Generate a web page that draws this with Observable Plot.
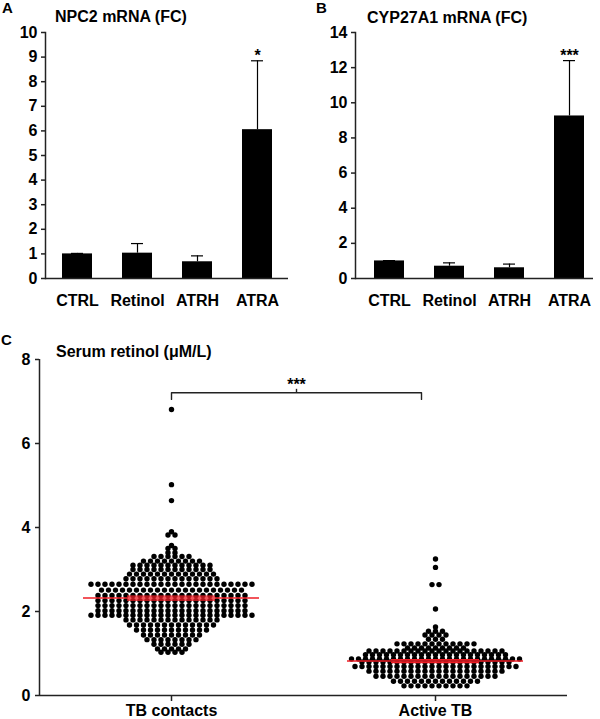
<!DOCTYPE html>
<html>
<head>
<meta charset="utf-8">
<script src="https://cdn.jsdelivr.net/npm/d3@7"></script>
<script src="https://cdn.jsdelivr.net/npm/@observablehq/plot@0.6"></script>
<style>
  body { margin: 0; background: #fff; }
  #wrap { position: relative; width: 600px; height: 719px; overflow: hidden;
          font-family: "Liberation Sans", Arial, sans-serif; font-weight: bold; color: #000; }
  .lbl { position: absolute; white-space: nowrap; line-height: 1; }
  #wrap svg { position: absolute; overflow: visible; }
</style>
</head>
<body>
<div id="wrap"></div>
<script>
// ---------------- DATA ----------------
// Panels A & B
const treatments = ["CTRL", "Retinol", "ATRH", "ATRA"];
const npc2Mean = [1.0, 1.03, 0.68, 6.05];
const npc2Err  = [0.02, 0.39, 0.24, 2.80];
const npc2Sig  = ["", "", "", "*"];
const npc2Ticks = [0, 1, 2, 3, 4, 5, 6, 7, 8, 9, 10];

const cypMean = [1.0, 0.70, 0.61, 9.25];
const cypErr  = [0.02, 0.19, 0.21, 3.15];
const cypSig  = ["", "", "", "***"];
const cypTicks = [0, 2, 4, 6, 8, 10, 12, 14];

// Panel C (serum retinol, rows of points: level and count)
const groups = ["TB contacts", "Active TB"];
const contactLevels = [6.81, 5.02, 4.64, 3.90, 3.82, 3.57, 3.50, 3.40, 3.31, 3.20, 3.10, 3.00, 2.89, 2.78,
                       2.65, 2.51, 2.38, 2.26, 2.14, 2.02, 1.91, 1.80, 1.68, 1.56, 1.44, 1.33, 1.22, 1.11, 1.03];
const contactCounts = [1, 1, 1, 1, 2, 1, 2, 2, 6, 9, 12, 12, 13, 14,
                       24, 21, 22, 22, 22, 22, 24, 14, 13, 11, 9, 8, 6, 5, 4];
const activeLevels = [3.25, 3.05, 2.64, 2.06, 1.63, 1.53, 1.44, 1.34, 1.23, 1.13, 1.06, 0.97, 0.87, 0.80,
                      0.69, 0.58, 0.46, 0.34, 0.23];
const activeCounts = [1, 1, 2, 1, 1, 3, 4, 3, 12, 9, 20, 21, 25, 22, 24, 20, 18, 13, 10];
const groupMean = [2.32, 0.82];
const groupSem  = [0.045, 0.035];
const retinolTicks = [0, 2, 4, 6, 8];
const bracketY = 7.21;
const bracketDrop = 0.16;
const bracketLabel = "***";

// ---------------- LAYOUT ----------------
const wrap = document.getElementById("wrap");
const FONT = '"Liberation Sans", Arial, sans-serif';
const baseStyle = { fontFamily: FONT, fontSize: "16px", fontWeight: "bold", color: "#000", background: "transparent", overflow: "visible" };

function addLabel(text, left, top, size) {
  const d = document.createElement("div");
  d.className = "lbl";
  d.textContent = text;
  d.style.left = left + "px";
  d.style.top = top + "px";
  d.style.fontSize = size + "px";
  wrap.appendChild(d);
}
function place(svg, left, top) {
  svg.style.left = left + "px";
  svg.style.top = top + "px";
  wrap.appendChild(svg);
}

function barPanel(means, errs, sig, ticks, opt) {
  const data = treatments.map((t, i) => ({ t, v: means[i], top: means[i] + errs[i], s: sig[i] }));
  return Plot.plot({
    width: 300, height: 330,
    marginLeft: opt.ml, marginRight: opt.mr, marginTop: 32, marginBottom: 52,
    style: baseStyle,
    x: { domain: treatments, paddingInner: 0.5, paddingOuter: opt.po, align: opt.align, label: null, axis: null },
    y: { domain: [0, ticks[ticks.length - 1]], label: null, axis: null },
    marks: [
      Plot.ruleX(data, { x: "t", y1: "v", y2: "top", stroke: "#000", strokeWidth: 1.2 }),
      Plot.tickY(data, { x: "t", y: "top", stroke: "#000", strokeWidth: 1.2, insetLeft: 9, insetRight: 9 }),
      Plot.barY(data, { x: "t", y: "v", fill: "#000" }),
      Plot.text(data.filter(d => d.s), { x: "t", y: "top", text: "s", dy: -5, fontSize: 16, fontWeight: "bold" }),
      Plot.frame({ anchor: "left", stroke: "#222", strokeWidth: 1.5 }),
      Plot.ruleY([0], { stroke: "#222", strokeWidth: 1.5 }),
      Plot.axisY(ticks, { tickSize: 4, tickPadding: 4, label: null, stroke: "#222", strokeWidth: 1.5 }),
      Plot.axisX({ tickSize: 0, tickPadding: 16, label: null })
    ]
  });
}

// Panel A
place(barPanel(npc2Mean, npc2Err, npc2Sig, npc2Ticks, { ml: 45, mr: 12, po: 0.275, align: 0.5 }), 0, 0);
// Panel B
place(barPanel(cypMean, cypErr, cypSig, cypTicks, { ml: 55, mr: 7, po: 0.233, align: 0.68 }), 300, 0);

// Panel C
const cW = 600, cH = 389, cML = 39, cMR = 33;
const pxPerUnit = (cW - cML - cMR) / groups.length;
const dotGap = 7;               // px between neighbouring dots in a row
const stepUnits = dotGap / pxPerUnit;
const gPos = gi => gi + 0.5;
function swarm(levels, counts, gi) {
  return levels.flatMap((v, i) => d3.range(counts[i]).map(k => ({
    x: gPos(gi) + (k - (counts[i] - 1) / 2) * stepUnits, y: v
  })));
}
const dots = swarm(contactLevels, contactCounts, 0).concat(swarm(activeLevels, activeCounts, 1));
const meanHalf = 88 / pxPerUnit, semHalf = 44 / pxPerUnit;
const stats = groups.map((g, i) => ({ g, x: gPos(i), m: groupMean[i], lo: groupMean[i] - groupSem[i], hi: groupMean[i] + groupSem[i] }));
const semLines = stats.flatMap(s => [{ x: s.x, y: s.lo }, { x: s.x, y: s.hi }]);
const bx1 = gPos(0), bx2 = gPos(1) - 14 / pxPerUnit;
const bracket = [
  { x: bx1, y: bracketY - bracketDrop }, { x: bx1, y: bracketY },
  { x: bx2, y: bracketY }, { x: bx2, y: bracketY - bracketDrop }
];
const bMid = (bx1 + bx2) / 2;
const RED = "#ee1c24";

const plotC = Plot.plot({
  width: cW, height: cH,
  marginLeft: cML, marginRight: cMR, marginTop: 29, marginBottom: 24,
  style: baseStyle,
  x: { domain: [0, groups.length], axis: null, label: null },
  y: { domain: [0, 8], axis: null, label: null },
  marks: [
    Plot.dot(dots, { x: "x", y: "y", r: 2.7, fill: "#000", stroke: "none" }),
    Plot.ruleY(stats, { x1: d => d.x - meanHalf, x2: d => d.x + meanHalf, y: "m", stroke: RED, strokeWidth: 1.4 }),
    Plot.ruleY(semLines, { x1: d => d.x - semHalf, x2: d => d.x + semHalf, y: "y", stroke: RED, strokeWidth: 1.4 }),
    Plot.line(bracket, { x: "x", y: "y", stroke: "#222", strokeWidth: 1.4 }),
    Plot.ruleX([bMid], { y1: bracketY, y2: bracketY + 0.08, stroke: "#222", strokeWidth: 1.4 }),
    Plot.text([bracketLabel], { x: bMid, y: bracketY, text: d => d, dy: -8, fontSize: 16, fontWeight: "bold" }),
    Plot.ruleX([0], { stroke: "#222", strokeWidth: 1.5 }),
    Plot.ruleY([0], { stroke: "#222", strokeWidth: 1.5 }),
    Plot.axisY(retinolTicks, { tickSize: 4, tickPadding: 5, label: null, stroke: "#222", strokeWidth: 1.5 }),
    Plot.axisX(groups.map((g, i) => gPos(i)), { tickSize: 6, tickPadding: 3, label: null, stroke: "#222", strokeWidth: 1.5,
      tickFormat: d => groups[Math.floor(d)] })
  ]
});
place(plotC, 0, 330);

// Panel letters and titles
addLabel("A", 2, 0, 15);
addLabel("NPC2 mRNA (FC)", 55, 8.5, 16);
addLabel("B", 316, 0, 15);
addLabel("CYP27A1 mRNA (FC)", 367, 9.5, 16);
addLabel("C", 1, 332, 15);
addLabel("Serum retinol (\u03bcM/L)", 56, 343.5, 16);
</script>
</body>
</html>
